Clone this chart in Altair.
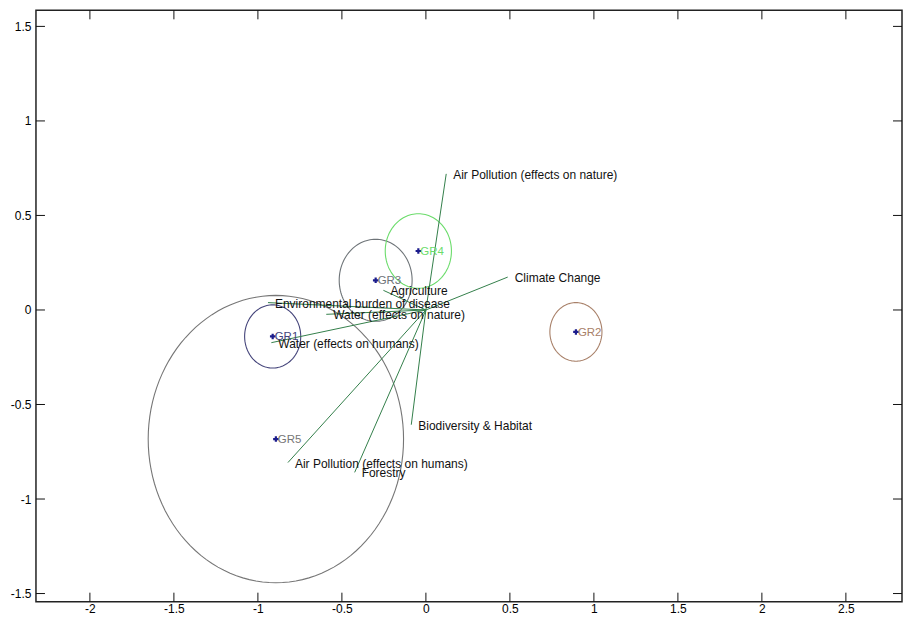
import altair as alt
import numpy as np
import pandas as pd

# ---- data ----
group_names = ["GR1", "GR2", "GR3", "GR4", "GR5"]
group_x = [-0.912, 0.893, -0.299, -0.045, -0.893]
group_y = [-0.140, -0.116, 0.157, 0.312, -0.683]
group_radius = [0.167, 0.155, 0.217, 0.197, 0.760]
group_circle_colors = ["#44447a", "#a88069", "#6e7478", "#6bdc6b", "#767676"]
group_label_colors = ["#3a3a8c", "#7c5878", "#64748a", "#55cc55", "#6b6b6b"]

var_names = [
    "Air Pollution (effects on nature)",
    "Climate Change",
    "Agriculture",
    "Environmental burden of disease",
    "Water (effects on nature)",
    "Water (effects on humans)",
    "Biodiversity & Habitat",
    "Air Pollution (effects on humans)",
    "Forestry",
]
var_x = [0.121, 0.487, -0.253, -0.940, -0.593, -0.920, -0.087, -0.821, -0.424]
var_y = [0.720, 0.174, 0.104, 0.039, -0.023, -0.173, -0.607, -0.807, -0.859]

x_ticks = [-2, -1.5, -1, -0.5, 0, 0.5, 1, 1.5, 2, 2.5]
y_ticks = [-1.5, -1, -0.5, 0, 0.5, 1, 1.5]

X_DOMAIN = [-2.321, 2.834]
Y_DOMAIN = [-1.543, 1.585]
W, H = 867, 592
TICK = 9
FONT = "Liberation Sans"

# ---- tables ----
groups = pd.DataFrame({"group": group_names, "x": group_x, "y": group_y})
variables = pd.DataFrame({"name": var_names, "vx": var_x, "vy": var_y})

angles = np.linspace(0, 2 * np.pi, 121)
circle_rows = []
for g, cx, cy, r in zip(group_names, group_x, group_y, group_radius):
    for i, t in enumerate(angles):
        circle_rows.append({"group": g, "order": i,
                            "x": cx + r * np.cos(t), "y": cy + r * np.sin(t)})
circles = pd.DataFrame(circle_rows)

xticks_df = pd.DataFrame({"v": x_ticks})
yticks_df = pd.DataFrame({"v": y_ticks})

xs = alt.Scale(domain=X_DOMAIN, nice=False, zero=False)
ys = alt.Scale(domain=Y_DOMAIN, nice=False, zero=False)

x_axis = alt.Axis(values=x_ticks, labelExpr="'' + datum.value", ticks=False, tickSize=0,
                  domain=False, grid=False, labelPadding=2, labelFontSize=12,
                  labelFont=FONT, labelColor="#000", labelFlush=False, labelOverlap=False,
                  title=None)
y_axis = alt.Axis(values=y_ticks, labelExpr="'' + datum.value", ticks=False, tickSize=0,
                  domain=False, grid=False, labelPadding=5, labelFontSize=12,
                  labelFont=FONT, labelColor="#000", labelFlush=False, labelOverlap=False,
                  minExtent=26, maxExtent=26, title=None)


def X(field):
    return alt.X(field, scale=xs, axis=x_axis, title=None)


def Y(field):
    return alt.Y(field, scale=ys, axis=y_axis, title=None)


circle_layer = alt.Chart(circles).mark_line(strokeWidth=1.1, clip=True).encode(
    x=X("x:Q"),
    y=Y("y:Q"),
    color=alt.Color("group:N", scale=alt.Scale(domain=group_names, range=group_circle_colors),
                    legend=None),
    detail="group:N",
    order="order:Q",
)

vector_layer = alt.Chart(variables).transform_calculate(x0="0", y0="0").mark_rule(
    color="#33804a", strokeWidth=1
).encode(
    x=X("x0:Q"),
    y=Y("y0:Q"),
    x2="vx:Q",
    y2="vy:Q",
)

vector_text = alt.Chart(variables).mark_text(
    align="left", baseline="middle", dx=7, dy=1, fontSize=12, font=FONT, color="#111111"
).encode(
    x=X("vx:Q"),
    y=Y("vy:Q"),
    text="name:N",
)

marker_layer = alt.Chart(groups).mark_point(
    shape="cross", filled=True, size=30, color="#1c1c8c", opacity=1
).encode(
    x=X("x:Q"),
    y=Y("y:Q"),
)

group_text = alt.Chart(groups).mark_text(
    align="left", baseline="middle", dx=2, dy=1, fontSize=11.5, font=FONT
).encode(
    x=X("x:Q"),
    y=Y("y:Q"),
    text="group:N",
    color=alt.Color("group:N", scale=alt.Scale(domain=group_names, range=group_label_colors),
                    legend=None),
)

tick_style = dict(color="#111111", strokeWidth=1)
bottom_ticks = alt.Chart(xticks_df).mark_rule(**tick_style).encode(
    x=X("v:Q"), y=alt.value(H), y2=alt.value(H - TICK))
top_ticks = alt.Chart(xticks_df).mark_rule(**tick_style).encode(
    x=X("v:Q"), y=alt.value(0), y2=alt.value(TICK))
left_ticks = alt.Chart(yticks_df).mark_rule(**tick_style).encode(
    y=Y("v:Q"), x=alt.value(0), x2=alt.value(TICK))
right_ticks = alt.Chart(yticks_df).mark_rule(**tick_style).encode(
    y=Y("v:Q"), x=alt.value(W - TICK), x2=alt.value(W))

chart = alt.layer(
    circle_layer, vector_layer, vector_text, marker_layer, group_text,
    bottom_ticks, top_ticks, left_ticks, right_ticks,
).properties(
    width=W, height=H,
    padding={"left": 2, "top": 1, "right": 0, "bottom": 0},
    background="white",
).configure_view(stroke="#222222", strokeWidth=1.5)

chart.save("out.html", embed_options={"renderer": "svg", "actions": False})
